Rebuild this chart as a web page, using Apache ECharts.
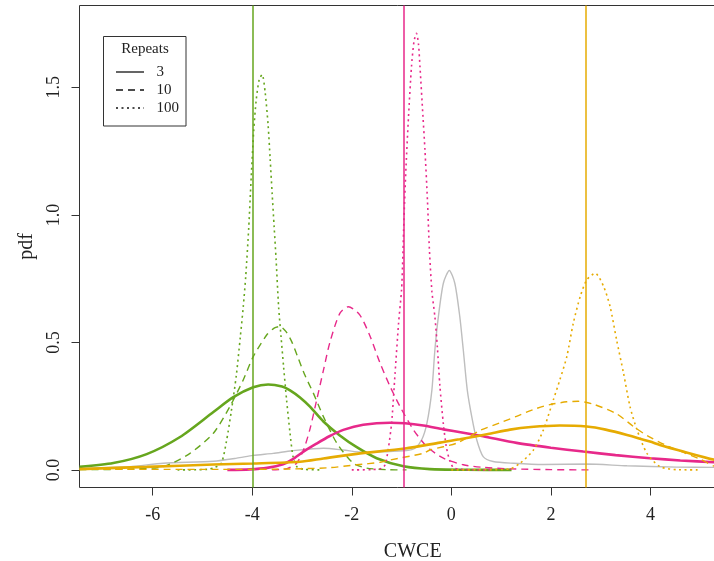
<!DOCTYPE html>
<html><head><meta charset="utf-8">
<script src="https://cdn.jsdelivr.net/npm/echarts@6/dist/echarts.min.js"></script>
<style>html,body{margin:0;padding:0;background:#fff}#c{width:714px;height:561px}</style>
</head><body><div id="c"></div>
<script>
// ---- data ----
const xTicks = [-6, -4, -2, 0, 2, 4];
const yTicks = [0, 0.5, 1.0, 1.5];
const legendLabels = ['3', '10', '100'];
const trueGreen = -3.98, truePink = -0.95, trueGold = 2.71;

const greyCurve = [[-7.47,0.007],[-6.46,0.013],[-5.79,0.026],[-4.78,0.034],[-4.31,0.046],[-3.98,0.057],[-3.58,0.065],[-3.2,0.075],[-2.57,0.085],[-2.17,0.078],[-1.77,0.069],[-1.37,0.071],[-0.9,0.076],[-0.73,0.085],[-0.59,0.12],[-0.49,0.183],[-0.39,0.314],[-0.33,0.471],[-0.26,0.601],[-0.16,0.732],[-0.04,0.782],[0.07,0.732],[0.17,0.601],[0.24,0.471],[0.32,0.314],[0.41,0.209],[0.51,0.118],[0.64,0.052],[0.84,0.033],[1.25,0.026],[1.85,0.021],[2.72,0.023],[3.53,0.016],[4.53,0.011],[5.28,0.01],[5.92,0.008]];

const green3 = [[-7.47,0.012],[-6.79,0.027],[-6.12,0.062],[-5.45,0.129],[-4.78,0.227],[-4.38,0.285],[-3.98,0.324],[-3.68,0.335],[-3.4,0.327],[-3.24,0.312],[-3.04,0.284],[-2.84,0.248],[-2.57,0.19],[-2.24,0.135],[-1.9,0.089],[-1.5,0.046],[-0.96,0.014],[-0.43,0.003],[0.3,0.0005],[1.21,0]];
const green10 = [[-7.47,0.001],[-6.5,0.003],[-5.79,0.013],[-5.25,0.065],[-4.78,0.144],[-4.45,0.248],[-4.18,0.353],[-3.98,0.444],[-3.71,0.529],[-3.56,0.556],[-3.44,0.562],[-3.32,0.542],[-3.2,0.5],[-3.08,0.44],[-2.95,0.375],[-2.77,0.3],[-2.57,0.209],[-2.3,0.105],[-1.97,0.026],[-1.7,0.007],[-1.3,0.001],[-0.9,0]];
const green100 = [[-5.5,0],[-4.9,0.002],[-4.75,0.01],[-4.62,0.026],[-4.52,0.11],[-4.42,0.23],[-4.32,0.37],[-4.24,0.52],[-4.18,0.64],[-4.13,0.76],[-4.07,0.95],[-4.02,1.15],[-3.97,1.33],[-3.92,1.45],[-3.86,1.53],[-3.8,1.55],[-3.74,1.48],[-3.68,1.35],[-3.64,1.22],[-3.6,1.085],[-3.56,0.954],[-3.52,0.824],[-3.47,0.64],[-3.42,0.52],[-3.37,0.405],[-3.31,0.275],[-3.24,0.144],[-3.18,0.052],[-3.1,0.012],[-2.95,0.002],[-2.6,0]];

const pink3 = [[-4.5,0],[-4.05,0.002],[-3.7,0.008],[-3.38,0.022],[-3.2,0.04],[-2.97,0.072],[-2.71,0.103],[-2.45,0.132],[-2.17,0.157],[-1.77,0.177],[-1.23,0.185],[-0.93,0.183],[-0.56,0.174],[-0.16,0.159],[0.24,0.146],[0.64,0.132],[1.31,0.106],[2.0,0.087],[2.65,0.072],[3.3,0.058],[3.99,0.046],[4.6,0.037],[5.28,0.03],[5.92,0.024]];
const pink10 = [[-3.6,0],[-3.3,0.005],[-3.11,0.026],[-2.97,0.078],[-2.84,0.16],[-2.71,0.27],[-2.57,0.39],[-2.44,0.5],[-2.24,0.614],[-2.07,0.64],[-1.84,0.608],[-1.63,0.523],[-1.43,0.418],[-1.23,0.327],[-1.03,0.248],[-0.76,0.157],[-0.49,0.091],[-0.16,0.046],[0.24,0.02],[0.64,0.01],[1.2,0.004],[2.0,0.001],[2.79,0]];
const pink100 = [[-2.0,0],[-1.6,0.001],[-1.4,0.006],[-1.33,0.02],[-1.27,0.078],[-1.2,0.183],[-1.13,0.379],[-1.06,0.575],[-1.0,0.706],[-0.98,0.8],[-0.95,0.993],[-0.91,1.19],[-0.86,1.386],[-0.8,1.582],[-0.75,1.68],[-0.7,1.712],[-0.66,1.67],[-0.63,1.582],[-0.57,1.386],[-0.53,1.255],[-0.48,1.059],[-0.44,0.863],[-0.39,0.7],[-0.33,0.6],[-0.28,0.48],[-0.23,0.33],[-0.16,0.18],[-0.1,0.09],[-0.03,0.035],[0.05,0.008],[0.3,0.001],[0.8,0]];

const gold3 = [[-7.47,0.003],[-6.12,0.012],[-4.78,0.021],[-3.98,0.025],[-3.04,0.032],[-2.57,0.045],[-1.9,0.063],[-0.93,0.084],[-0.23,0.107],[0.17,0.12],[0.74,0.141],[1.18,0.158],[1.6,0.168],[2.18,0.174],[2.72,0.17],[3.1,0.158],[3.53,0.137],[3.99,0.111],[4.19,0.098],[4.66,0.072],[5.28,0.04],[5.92,0.02]];
const gold10 = [[-7.47,0.002],[-5,0.002],[-3.5,0.003],[-2.5,0.008],[-1.9,0.02],[-1.43,0.03],[-1.23,0.039],[-0.56,0.065],[-0.43,0.078],[0.11,0.105],[0.58,0.155],[0.98,0.185],[1.31,0.21],[1.65,0.237],[1.98,0.256],[2.32,0.267],[2.55,0.269],[2.85,0.258],[3.32,0.22],[3.66,0.17],[3.93,0.135],[4.33,0.095],[5.0,0.042],[5.28,0.015],[5.6,0.005]];
const gold100 = [[0,0],[0.8,0.001],[1.18,0.004],[1.38,0.026],[1.65,0.078],[1.85,0.157],[2.05,0.275],[2.18,0.353],[2.32,0.444],[2.45,0.575],[2.59,0.68],[2.72,0.745],[2.89,0.771],[3.06,0.719],[3.19,0.64],[3.32,0.51],[3.46,0.379],[3.59,0.248],[3.73,0.157],[3.93,0.065],[4.19,0.013],[4.53,0.001],[5.0,0]];

// ---- styling ----
const FONT = 'Liberation Serif';
const GREEN = '#66A61E', PINK = '#E7298A', GOLD = '#E6AB02', GREY = '#BEBEBE';
const SOLID = 'solid', DASHED = [7, 5], DOTTED = [2, 3.5];

function curve(name, data, color, type, width, mark) {
  const s = {
    name, type: 'line', data, showSymbol: false, symbol: 'none', smooth: 0.25,
    lineStyle: { color, type, width, cap: 'butt' }, silent: true, z: 2
  };
  if (mark !== undefined) {
    s.markLine = {
      silent: true, symbol: 'none', label: { show: false }, animation: false,
      lineStyle: { color, type: 'solid', width: 1.5 },
      data: [{ xAxis: mark }]
    };
  }
  return s;
}

const chart = echarts.init(document.getElementById('c'), null, { renderer: 'canvas' });
const axisText = { fontFamily: FONT, fontSize: 18, color: '#222' };

const legendBox = { x: 103.5, y: 36.5, w: 82.5, h: 89.5 };
const legendTypes = [SOLID, DASHED, DOTTED];
const graphics = [
  { type: 'rect', shape: { x: legendBox.x, y: legendBox.y, width: legendBox.w, height: legendBox.h },
    style: { fill: '#fff', stroke: '#333', lineWidth: 1 }, z: 100 },
  { type: 'text', x: 145, y: 49.5, style: { text: 'Repeats', font: '15px ' + FONT, fill: '#222', textAlign: 'center', textVerticalAlign: 'middle' }, z: 101 }
];
legendLabels.forEach((lab, i) => {
  const y = 72 + i * 18;
  graphics.push({ type: 'line', shape: { x1: 116, y1: y, x2: 144, y2: y },
    style: { stroke: '#111', lineWidth: 1.3, lineDash: legendTypes[i] === SOLID ? null : legendTypes[i] }, z: 101 });
  graphics.push({ type: 'text', x: 156.5, y: y, style: { text: lab, font: '15px ' + FONT, fill: '#222', textAlign: 'left', textVerticalAlign: 'middle' }, z: 101 });
});

chart.setOption({
  animation: false,
  backgroundColor: '#fff',
  grid: { left: 79.5, width: 666.5, top: 5.5, bottom: 73.5, show: true, borderColor: '#333', borderWidth: 1, backgroundColor: 'transparent', containLabel: false, outerBoundsMode: 'none' },
  xAxis: {
    type: 'value', min: -7.47, max: 5.92,
    name: 'CWCE', nameLocation: 'middle', nameGap: 54,
    nameTextStyle: { fontFamily: FONT, fontSize: 20, color: '#222' },
    axisLine: { show: false, onZero: false },
    axisTick: { show: true, inside: false, length: 8, customValues: xTicks, lineStyle: { color: '#333' } },
    axisLabel: Object.assign({ customValues: xTicks, margin: 19, formatter: v => String(v) }, axisText),
    splitLine: { show: false }
  },
  yAxis: {
    type: 'value', min: -0.069, max: 1.821,
    name: 'pdf', nameLocation: 'middle', nameGap: 43,
    nameTextStyle: { fontFamily: FONT, fontSize: 20, color: '#222' },
    axisLine: { show: false, onZero: false },
    axisTick: { show: true, inside: false, length: 8, customValues: yTicks, lineStyle: { color: '#333' } },
    axisLabel: Object.assign({ customValues: yTicks, margin: 16, rotate: 90, formatter: v => v.toFixed(1) }, axisText),
    splitLine: { show: false }
  },
  series: [
    curve('grey', greyCurve, GREY, SOLID, 1.4),
    curve('g3', green3, GREEN, SOLID, 2.6, trueGreen),
    curve('g10', green10, GREEN, DASHED, 1.4),
    curve('g100', green100, GREEN, DOTTED, 1.6),
    curve('p3', pink3, PINK, SOLID, 2.6, truePink),
    curve('p10', pink10, PINK, DASHED, 1.4),
    curve('p100', pink100, PINK, DOTTED, 1.6),
    curve('o3', gold3, GOLD, SOLID, 2.6, trueGold),
    curve('o10', gold10, GOLD, DASHED, 1.4),
    curve('o100', gold100, GOLD, DOTTED, 1.6)
  ],
  graphic: graphics
});
</script>
</body></html>
